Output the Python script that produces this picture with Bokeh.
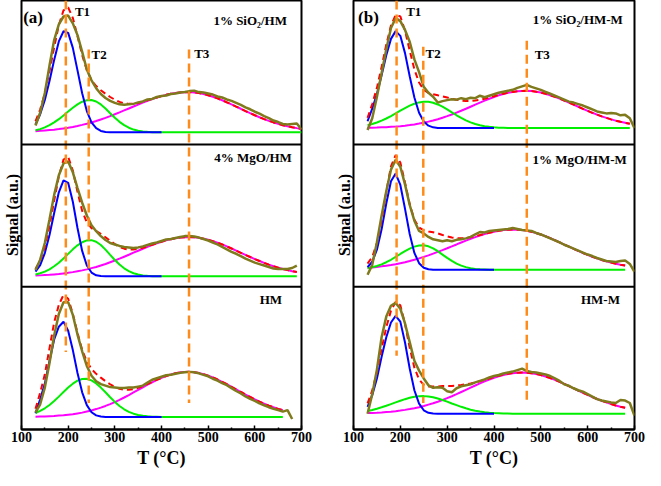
import math
from bokeh.plotting import figure
from bokeh.models import Span, Label, FixedTicker
from bokeh.layouts import row
from bokeh.embed import file_html
from bokeh.resources import INLINE

# ---------------- data ----------------
T = [130, 140, 150, 160, 170, 180, 190, 200, 210, 220, 230, 240, 250, 260, 270,
     280, 290, 300, 310, 320, 330, 340, 350, 360, 370, 380, 390, 400, 410, 420,
     430, 440, 450, 460, 470, 480, 490, 500, 510, 520, 530, 540, 550, 560, 570,
     580, 590, 600, 610, 620, 630, 640, 650, 660, 670, 680, 690, 700]
x_ticks = [100, 200, 300, 400, 500, 600, 700]
x_minor = [150, 250, 350, 450, 550, 650]

names_a = ["1% SiO₂/HM", "4% MgO/HM", "HM"]
names_b = ["1% SiO₂/HM-M", "1% MgO/HM-M", "HM-M"]
peak_T_a = [195, 244, 459]
peak_T_b = [192, 249, 470]
peak_names = ["T1", "T2", "T3"]

# (a) 1% SiO2/HM
a1_signal = [7, 20, 40, 68, 94, 110, 118, 119, 111, 99, 82, 64, 53, 45, 39, 35, 32, 30, 28.5, 28,
             28.5, 29, 30.5, 31.5, 33.5, 34, 36, 37, 37.5, 39, 39.5, 40.5, 41, 42, 42.5, 41, 40.5, 39.5, 38.5, 36.5,
             35.5, 33.5, 32, 30, 28, 25.5, 23.5, 21, 19, 16.5, 14.5, 12, 10.5, 8.5, 8, 8.5, 9, 3]
a1_blue = [8, 18.4, 32.9, 52.3, 73.8, 92.6, 103, 101.3, 86, 63.1, 39.8, 21.7, 10.2, 4.2, 1.4, 0.4,
           0, 0, 0, 0, 0, 0, 0, 0, 0, 0, 0, 0]
a1_green = [2.1, 3.3, 5.0, 7.3, 10.1, 13.4, 17.2, 21.2, 25.1, 28.5, 31.2, 32.7, 32.9, 31.4, 28.4, 24.2,
            19.5, 14.9, 10.7, 7.3, 4.7, 2.8, 1.6, 0.9, 0.5, 0.2,
            0, 0, 0, 0, 0, 0, 0, 0, 0, 0, 0, 0, 0, 0, 0, 0, 0, 0, 0, 0, 0, 0, 0, 0, 0, 0, 0, 0, 0, 0, 0, 0]
a1_magenta = [1.2, 1.5, 1.9, 2.3, 2.7, 3.3, 4.0, 4.7, 5.5, 6.5, 7.6, 8.8, 10.1, 11.5, 13.1, 14.7, 16.5,
              18.4, 20.3, 22.3, 24.3, 26.3, 28.3, 30.2, 32.1, 33.9, 35.5, 36.9, 38.2, 39.3, 40.1, 40.7,
              40.9, 41, 40.7, 40.0, 39.1, 37.8, 36.3, 34.6, 32.7, 30.6, 28.5, 26.2, 24.0, 21.7, 19.5,
              17.4, 15.4, 13.5, 11.7, 10.1, 8.7, 7.3, 6.2, 5.2, 4.3, 3.5]

# (a) 4% MgO/HM
a2_signal = [6.5, 17, 34, 58, 83, 103, 115, 117, 106, 90, 75, 62, 52, 46, 41, 37, 34, 32.5, 31, 30,
             29.5, 29, 29.5, 30.5, 32, 33.5, 34.5, 36, 37.5, 38, 39, 40, 41, 41, 40.5, 39.5, 38, 36.5, 34.5, 32.5,
             30, 27.5, 25, 23, 20.5, 18, 16, 14, 12.5, 11, 9.5, 8, 7.5, 7.5, 7.5, 8.5, 11]
a2_blue = [4.8, 11.5, 23.7, 42.1, 64.6, 85.6, 97.8, 95.3, 76, 49.3, 25.9, 11.1, 3.9, 1.1, 0.3,
           0, 0, 0, 0, 0, 0, 0, 0, 0, 0, 0, 0, 0]
a2_green = [1.9, 3.1, 4.8, 7.2, 10.3, 13.9, 18.2, 22.9, 27.5, 31.6, 34.7, 36.6, 36.9, 35.3, 31.9, 27.2,
            21.9, 16.7, 12.0, 8.2, 5.3, 3.2, 1.9, 1.0, 0.5, 0.2,
            0, 0, 0, 0, 0, 0, 0, 0, 0, 0, 0, 0, 0, 0, 0, 0, 0, 0, 0, 0, 0, 0, 0, 0, 0, 0, 0, 0, 0, 0, 0]
a2_magenta = [0.8, 1.0, 1.3, 1.6, 2.0, 2.4, 3.0, 3.6, 4.3, 5.2, 6.1, 7.1, 8.4, 9.6, 11.1, 12.6, 14.4,
              16.1, 18.0, 20.0, 22.0, 24.1, 26.1, 28.1, 30.1, 32.0, 33.7, 35.3, 36.7, 37.9, 38.8, 39.5,
              39.9, 40, 39.8, 39.3, 38.4, 37.3, 35.9, 34.3, 32.5, 30.5, 28.4, 26.2, 24.0, 21.8, 19.7,
              17.6, 15.6, 13.7, 11.9, 10.3, 8.9, 7.5, 6.4, 5.3, 4.4]

# (a) HM
a3_signal = [4.5, 13, 30, 55, 83, 105, 117, 117, 104, 84, 67, 52, 42, 36.5, 33.5, 32, 30.5, 30, 29.5, 29.5,
             30, 30, 31, 32, 35, 38, 39.5, 41, 42.5, 43, 44, 45, 45.5, 46, 45.5, 44.5, 43, 41.5, 39, 37,
             34.5, 32.5, 29.5, 26.5, 24, 21, 18.5, 16.5, 14, 12, 10, 8.5, 7, 5.5, 7, -2]
a3_blue = [4, 18, 34, 57, 79, 92, 97, 88, 68.2, 44.9, 25.2, 12.1, 4.9, 1.7, 0.5,
           0, 0, 0, 0, 0, 0, 0, 0, 0, 0, 0, 0, 0]
a3_green = [4.1, 6.2, 8.9, 12.3, 16.3, 20.8, 25.5, 30.1, 34.0, 37.1, 38.7, 38.9, 37.3, 34.2, 30.0, 25.2,
            20.2, 15.4, 11.3, 7.9, 5.3, 3.4, 2.1, 1.2, 0.7, 0.4, 0.2,
            0, 0, 0, 0, 0, 0, 0, 0, 0, 0, 0, 0, 0, 0, 0, 0, 0, 0, 0, 0, 0, 0, 0, 0, 0, 0, 0]
a3_magenta = [0.4, 0.5, 0.6, 0.9, 1.1, 1.5, 1.9, 2.4, 2.9, 3.7, 4.5, 5.6, 6.7, 8.1, 9.6, 11.3, 13.2,
              15.2, 17.5, 19.9, 22.4, 25.0, 27.6, 30.3, 32.9, 35.4, 37.8, 39.9, 41.8, 43.4, 44.6, 45.5,
              45.9, 46, 45.6, 44.8, 43.6, 42.1, 40.3, 38.2, 35.9, 33.4, 30.8, 28.2, 25.5, 22.9, 20.4,
              18.0, 15.7, 13.6, 11.6, 9.9, 8.3, 7.0, 5.8, 4.7]

# (b) 1% SiO2/HM-M
b1_signal = [-2, 10, 32, 56, 80, 102, 112, 109, 100, 88, 70, 57, 42, 36, 32, 26, 27.5, 28.5, 29.5, 29,
             30.5, 29.5, 31, 30.5, 33, 31.5, 33, 34.5, 36, 37, 38, 39, 41, 42.5, 44, 42, 40.5, 39, 37, 35,
             33, 31, 29, 27, 26, 24.5, 23, 21, 19, 17, 16, 15, 15.5, 15, 13, 13.5, 10, 0]
b1_blue = [7, 19.8, 34.7, 53.9, 74.3, 90.9, 98.8, 94, 76.4, 52.9, 31.2, 15.6, 6.7, 2.5, 0.8, 0.2,
           0, 0, 0, 0, 0, 0, 0, 0, 0, 0, 0, 0]
b1_green = [3.0, 4.2, 5.7, 7.6, 9.8, 12.3, 15.0, 17.8, 20.4, 22.9, 24.8, 26.2, 26.9, 26.8, 25.9, 24.1,
            21.8, 19.0, 16.1, 13.1, 10.4, 7.9, 5.9, 4.2, 2.9, 2.0, 1.3, 0.8, 0.5, 0.3, 0.1,
            0, 0, 0, 0, 0, 0, 0, 0, 0, 0, 0, 0, 0, 0, 0, 0, 0, 0, 0, 0, 0, 0, 0, 0, 0, 0]
b1_magenta = [0.4, 0.5, 0.6, 0.8, 1.0, 1.3, 1.6, 2.0, 2.5, 3.1, 3.8, 4.6, 5.5, 6.6, 7.8, 9.1, 10.6,
              12.2, 13.9, 15.8, 17.7, 19.7, 21.8, 23.9, 26.0, 28.0, 29.9, 31.7, 33.4, 34.8, 36.0, 36.9,
              37.6, 37.9, 38, 37.7, 37.1, 36.2, 35.0, 33.5, 31.9, 30.1, 28.1, 26.0, 23.9, 21.8, 19.6,
              17.6, 15.6, 13.8, 12.0, 10.4, 8.9, 7.6, 6.4, 5.4, 4.4, 3.6]

# (b) 1% MgO/HM-M
b2_signal = [-5, 5, 28, 55, 80, 102, 112, 105, 87, 66, 50, 39.5, 37, 33.5, 31, 30, 29, 30, 29, 30.5,
             31, 32, 33.5, 36, 38.5, 38, 39.5, 40, 40.5, 41, 41.5, 42.5, 41.5, 40.5, 40, 39.5, 37.5, 36, 34, 32,
             30, 28, 25.5, 23.5, 21.5, 19.5, 17.5, 15.5, 14, 12, 10.5, 9, 8.5, 8, 9, 9.5, 6, -2]
b2_blue = [2.6, 8.2, 20.4, 41.2, 67.5, 90.2, 98, 86.4, 62.1, 36.4, 17.2, 6.7, 2.1, 0.5,
           0, 0, 0, 0, 0, 0, 0, 0, 0, 0, 0, 0, 0, 0]
b2_green = [1.6, 2.5, 3.8, 5.5, 7.7, 10.2, 13.1, 16.1, 19.0, 21.6, 23.6, 24.8, 25, 23.9, 21.8, 18.9,
            15.5, 12.1, 9.0, 6.3, 4.2, 2.7, 1.6, 0.9, 0.5, 0.3, 0.1,
            0, 0, 0, 0, 0, 0, 0, 0, 0, 0, 0, 0, 0, 0, 0, 0, 0, 0, 0, 0, 0, 0, 0, 0, 0, 0, 0, 0, 0]
b2_magenta = [2.0, 2.4, 2.9, 3.5, 4.2, 4.9, 5.7, 6.7, 7.7, 8.9, 10.2, 11.6, 13.1, 14.7, 16.4, 18.2, 20.0,
              21.9, 23.9, 25.8, 27.8, 29.7, 31.5, 33.3, 34.9, 36.4, 37.7, 38.8, 39.7, 40.4, 40.8, 41,
              40.9, 40.5, 39.7, 38.7, 37.4, 35.9, 34.1, 32.2, 30.1, 28.0, 25.7, 23.5, 21.3, 19.2, 17.1,
              15.2, 13.3, 11.6, 10.0, 8.6, 7.3, 6.2, 5.2, 4.3, 3.5, 2.9]

# (b) HM-M
b3_signal = [0, 20, 45, 78, 99, 110, 113, 107, 92, 73, 54, 44, 36, 29, 26.5, 27, 26.5, 23, 22, 26,
             28, 29, 30, 32, 33.5, 35, 37, 38.5, 39.5, 41, 42, 43, 44.5, 46, 43.5, 42.5, 42, 41, 40, 38.5,
             36, 33.5, 30, 28.5, 26, 24, 22.5, 20, 17.5, 15, 13.5, 12.5, 11.5, 11, 14, 13.5, 11, -2]
b3_blue = [7, 19, 36, 58, 78, 93, 99.7, 93.9, 72.6, 46.1, 24, 10.3, 3.6, 1.0, 0.3,
           0, 0, 0, 0, 0, 0, 0, 0, 0, 0, 0, 0, 0]
b3_green = [2.9, 3.9, 5.2, 6.6, 8.2, 9.9, 11.6, 13.3, 14.9, 16.3, 17.3, 17.9, 18, 17.6, 16.8, 15.6,
            14.1, 12.4, 10.5, 8.8, 7.1, 5.6, 4.2, 3.2, 2.3, 1.6, 1.1, 0.7, 0.5, 0.3, 0.2, 0.1,
            0, 0, 0, 0, 0, 0, 0, 0, 0, 0, 0, 0, 0, 0, 0, 0, 0, 0, 0, 0, 0, 0, 0, 0]
b3_magenta = [0.7, 0.9, 1.1, 1.4, 1.8, 2.2, 2.7, 3.3, 4.0, 4.8, 5.7, 6.7, 7.9, 9.3, 10.7, 12.3, 14.1,
              16.0, 17.9, 20.0, 22.2, 24.4, 26.6, 28.8, 30.9, 33.0, 34.9, 36.7, 38.2, 39.5, 40.6, 41.4,
              41.8, 42, 41.8, 41.3, 40.5, 39.4, 38.0, 36.4, 34.6, 32.6, 30.4, 28.2, 25.9, 23.6, 21.4,
              19.2, 17.1, 15.1, 13.3, 11.6, 10.0, 8.5, 7.2, 6.1, 5.1, 4.2]

# ---------------- styling / layout ----------------
FONT = "Liberation Serif"
OLIVE = "#7F7A1C"
BLUE = "#0000FF"
GREEN = "#00EE00"
MAGENTA = "#FF00FF"
RED = "#FF0000"
ORANGE = "#FF8C1A"

Y_TOP = 437
SEPARATORS = [145.3, 290.3]


def shifted(vals, base):
    return [v + base for v in vals]


def pad(vals, n):
    return list(vals) + [0.0] * (n - len(vals))


def draw_panel(p, signal, blue, green, magenta, base):
    n = len(green)
    x = T[:n]
    p.line(x, shifted(magenta, base), line_color=MAGENTA, line_width=2)
    p.line(x, shifted(green, base), line_color=GREEN, line_width=2)
    p.line(T[:len(blue)], shifted(blue, base), line_color=BLUE, line_width=2)
    fit = [b + g + m for b, g, m in zip(pad(blue, n), green, magenta)]
    p.line(x, shifted(fit, base), line_color=RED, line_width=2, line_dash="6 4")
    p.line(T[:len(signal)], shifted(signal, base), line_color=OLIVE, line_width=2.5)


def make_fig(width, bl, br):
    p = figure(width=width, height=470, x_range=(100, 700), y_range=(0, Y_TOP),
               output_backend="svg", toolbar_location=None,
               min_border_left=bl, min_border_right=br, min_border_top=0, min_border_bottom=0)
    p.xgrid.visible = False
    p.ygrid.visible = False
    p.background_fill_color = "white"
    p.border_fill_color = "white"
    p.outline_line_color = "black"
    p.outline_line_width = 2
    p.outline_line_alpha = 1
    ax = p.xaxis[0]
    ax.ticker = FixedTicker(ticks=x_ticks, minor_ticks=x_minor)
    ax.major_tick_in = 4
    ax.major_tick_out = 0
    ax.minor_tick_in = 2
    ax.minor_tick_out = 0
    ax.major_tick_line_width = 1.5
    ax.minor_tick_line_width = 1.5
    ax.axis_line_width = 2
    ax.major_label_text_font = FONT
    ax.major_label_text_font_size = "14px"
    ax.major_label_text_font_style = "bold"
    ax.major_label_text_color = "black"
    ax.major_label_text_line_height = 1.0
    ax.major_label_standoff = 2
    ax.axis_label = "T (°C)"
    ax.axis_label_text_font = FONT
    ax.axis_label_text_font_size = "18px"
    ax.axis_label_text_font_style = "bold"
    ax.axis_label_text_color = "black"
    ax.axis_label_text_line_height = 1.0
    ax.axis_label_standoff = 3
    ay = p.yaxis[0]
    ay.ticker = FixedTicker(ticks=[])
    ay.axis_line_color = None
    ay.major_tick_line_color = None
    ay.minor_tick_line_color = None
    ay.major_tick_out = 0
    ay.minor_tick_out = 0
    ay.major_label_standoff = 0
    ay.axis_label = "Signal (a.u.)"
    ay.axis_label_text_font = FONT
    ay.axis_label_text_font_size = "16px"
    ay.axis_label_text_font_style = "bold"
    ay.axis_label_text_color = "black"
    ay.axis_label_text_line_height = 1.0
    ay.axis_label_standoff = 1
    for s in SEPARATORS:
        p.add_layout(Span(location=s, dimension="width", line_color="black", line_width=2))
    return p


def add_text(p, x, y, text, size, align="left"):
    p.add_layout(Label(x=x, y=y, text=text, text_font=FONT, text_font_size=size,
                       text_font_style="bold", text_color="black", text_align=align,
                       text_baseline="middle"))


def build(width, bl, br, panels, bases, names, name_pos, peaks, peak_tops, peak_bottoms,
          peak_label_pos, letter, letter_x):
    p = make_fig(width, bl, br)
    for (sig, bl_, gr, mg), base in zip(panels, bases):
        draw_panel(p, sig, bl_, gr, mg, base)
    p.segment(x0=peaks, y0=peak_tops, x1=peaks, y1=peak_bottoms,
              line_color=ORANGE, line_width=2.5, line_dash="9 5")
    for name, (nx, ny) in zip(names, name_pos):
        add_text(p, nx, ny, name, "13px", align="right")
    for lab, (lx, ly) in zip(peak_names, peak_label_pos):
        add_text(p, lx, ly, lab, "13px")
    add_text(p, letter_x, 419.5, letter, "17px")
    return p


pa = build(322, 20, 21,
           [(a1_signal, a1_blue, a1_green, a1_magenta),
            (a2_signal, a2_blue, a2_green, a2_magenta),
            (a3_signal, a3_blue, a3_green, a3_magenta)],
           [302.7, 156, 12.7], names_a,
           [(668.9, 417), (679.4, 277), (658.4, 132)],
           peak_T_a, [437, 387, 387], [79, 27, 27],
           [(214.5, 426), (250.1, 382), (470, 382.7)],
           "(a)", 103.6)

pb = build(323, 31, 11,
           [(b1_signal, b1_blue, b1_green, b1_magenta),
            (b2_signal, b2_blue, b2_green, b2_magenta),
            (b3_signal, b3_blue, b3_green, b3_magenta)],
           [307, 162.7, 16], names_b,
           [(675.2, 418), (683.6, 275.3), (668.9, 132)],
           peak_T_b, [437, 390, 396], [75, 27, 30],
           [(212.4, 425.3), (253.7, 382.7), (486.8, 382)],
           "(b)", 109.8)

layout = row(pa, pb)
open("out.html", "w").write(file_html(layout, INLINE))
